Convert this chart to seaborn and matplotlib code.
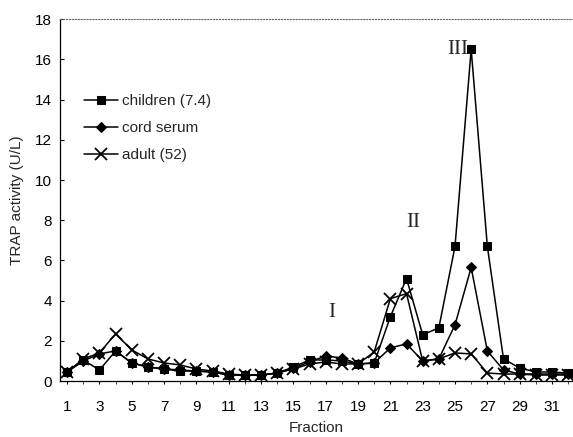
import seaborn as sns
import matplotlib.pyplot as plt
import pandas as pd

fraction = list(range(1, 33))
children = [0.45, 1.05, 0.55, 1.5, 0.9, 0.7, 0.6, 0.5, 0.5, 0.45, 0.3, 0.3, 0.3, 0.4, 0.7, 1.05,
            1.05, 1.0, 0.85, 0.9, 3.2, 5.1, 2.3, 2.65, 6.7, 16.5, 6.7, 1.1, 0.65, 0.45, 0.45, 0.4]
cord = [0.45, 1.0, 1.35, 1.5, 0.9, 0.7, 0.6, 0.55, 0.5, 0.45, 0.3, 0.3, 0.3, 0.4, 0.65, 0.95,
        1.25, 1.15, 0.85, 0.9, 1.65, 1.85, 1.0, 1.1, 2.8, 5.65, 1.5, 0.55, 0.35, 0.35, 0.35, 0.35]
adult = [0.45, 1.1, 1.4, 2.35, 1.55, 1.1, 0.9, 0.8, 0.6, 0.5, 0.35, 0.3, 0.3, 0.4, 0.6, 0.85,
         0.95, 0.85, 0.85, 1.45, 4.1, 4.35, 1.0, 1.1, 1.4, 1.35, 0.4, 0.35, 0.35, 0.3, 0.3, 0.3]
series_names = ['children (7.4)', 'cord serum', 'adult (52)']
peak_labels = ['I', 'II', 'III']
peak_pos = [(17.4, 3.4), (22.4, 7.9), (25.2, 16.5)]

df = pd.DataFrame({'Fraction': fraction * 3,
                   'value': children + cord + adult,
                   'series': [s for s in series_names for _ in fraction]})

sns.set_style('ticks')
plt.rcParams['font.family'] = ['Liberation Sans', 'DejaVu Sans']

fig = plt.figure(figsize=(5.73, 4.37), dpi=100)
ax = fig.add_axes([0.105, 0.128, 0.895, 0.828])

styles = {'children (7.4)': dict(marker='s', markersize=6),
          'cord serum': dict(marker='D', markersize=5.5),
          'adult (52)': dict(marker='x', markersize=8, markeredgewidth=1.3)}
for name in series_names:
    sns.lineplot(data=df[df['series'] == name], x='Fraction', y='value', ax=ax,
                 color='black', linewidth=1.1, label=name, markeredgecolor='black',
                 markerfacecolor='black', **styles[name])

for lab, (x, y) in zip(peak_labels, peak_pos):
    ax.text(x, y, lab, fontsize=15, family='Liberation Serif', ha='center', va='center')

ax.set_xlim(0.57, 32.3)
ax.set_ylim(0, 18)
ax.set_xticks(range(1, 33, 2))
ax.set_xticks(range(1, 33), minor=True)
ax.set_yticks(range(0, 19, 2))
ax.tick_params(axis='both', labelsize=11, length=3, width=0.8, colors='black')
ax.tick_params(axis='y', direction='in', pad=6)
ax.tick_params(axis='x', which='both', direction='out', length=2.5, pad=11)
ax.set_xlabel('Fraction', fontsize=11, labelpad=5)
ax.set_ylabel('TRAP activity (U/L)', fontsize=11, labelpad=8)
ax.spines['right'].set_visible(False)
ax.spines['top'].set_linestyle(':')
ax.spines['top'].set_color('0.4')
for s in ['left', 'bottom']:
    ax.spines[s].set_color('black')
    ax.spines[s].set_linewidth(0.9)

ax.legend(loc='upper left', bbox_to_anchor=(0.02, 0.83), frameon=False, fontsize=11,
          handlelength=2.2, labelspacing=0.85, handletextpad=0.3)

fig.savefig('out.png', dpi=100)
